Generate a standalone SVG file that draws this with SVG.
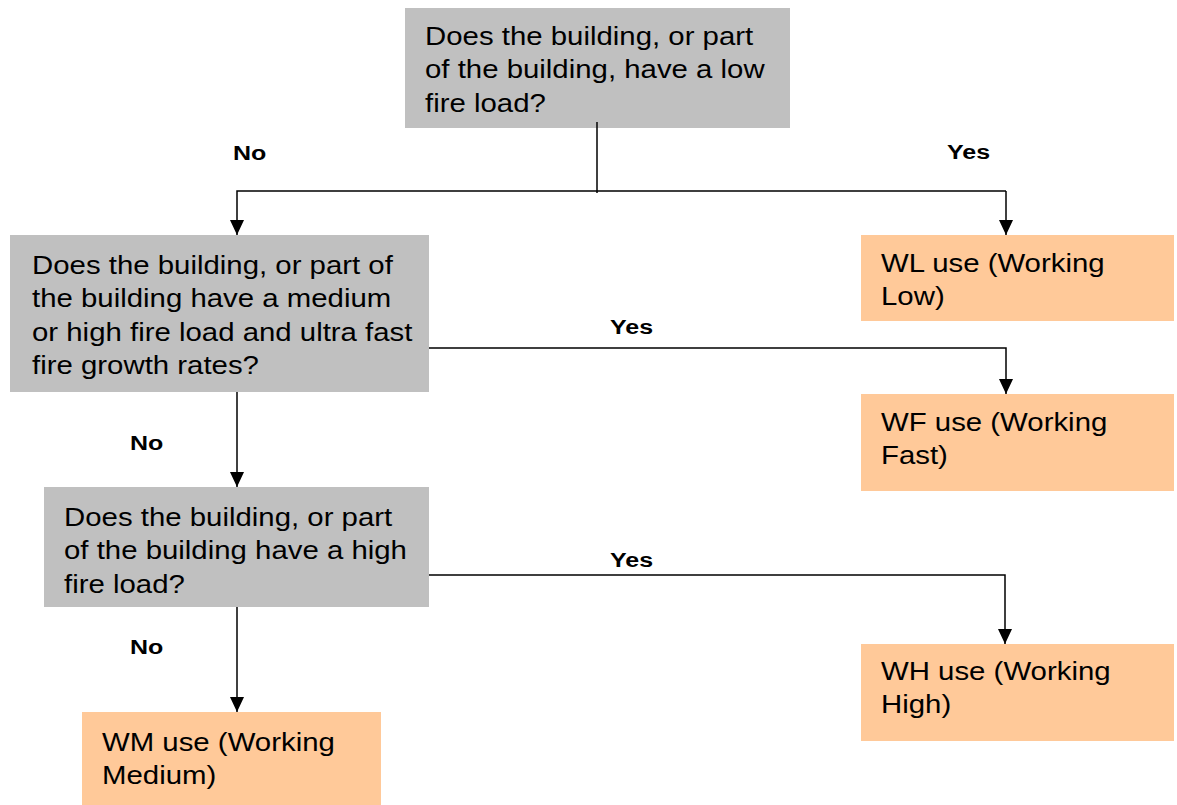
<svg xmlns="http://www.w3.org/2000/svg" width="1177" height="805" viewBox="0 0 1177 805">
  <style>
    .q { fill: #C0C0C0; }
    .r { fill: #FFC999; }
    .t { font-family: "Liberation Sans", Arial, sans-serif; font-size: 26px; fill: #000; }
    .lbl { font-family: "Liberation Sans", Arial, sans-serif; font-size: 20px; font-weight: bold; fill: #000; }
    .wire { fill: none; stroke: #000; stroke-width: 1.5; }
  </style>
  <defs>
    <marker id="arrow" viewBox="0 0 15 14" refX="15" refY="7" markerWidth="15" markerHeight="14" markerUnits="userSpaceOnUse" orient="auto">
      <path d="M0,0 L15,7 L0,14 Z" fill="#000"/>
    </marker>
  </defs>
  <rect width="1177" height="805" fill="#fff"/>

  <g id="q-low">
    <rect class="q" x="405" y="8" width="385" height="120"/>
    <text class="t" transform="translate(425,45) scale(1.13,1)">
      <tspan x="0" y="0">Does the building, or part</tspan>
      <tspan x="0" y="33.5">of the building, have a low</tspan>
      <tspan x="0" y="67">fire load?</tspan>
    </text>
  </g>

  <g id="q-fast">
    <rect class="q" x="10" y="235" width="419" height="157"/>
    <text class="t" transform="translate(32,274) scale(1.13,1)">
      <tspan x="0" y="0">Does the building, or part of</tspan>
      <tspan x="0" y="33.5">the building have a medium</tspan>
      <tspan x="0" y="67">or high fire load and ultra fast</tspan>
      <tspan x="0" y="100.5">fire growth rates?</tspan>
    </text>
  </g>

  <g id="q-high">
    <rect class="q" x="44" y="487" width="385" height="120"/>
    <text class="t" transform="translate(64,526) scale(1.13,1)">
      <tspan x="0" y="0">Does the building, or part</tspan>
      <tspan x="0" y="33.5">of the building have a high</tspan>
      <tspan x="0" y="67">fire load?</tspan>
    </text>
  </g>

  <g id="wl">
    <rect class="r" x="861" y="235" width="313" height="86"/>
    <text class="t" transform="translate(881,272) scale(1.13,1)">
      <tspan x="0" y="0">WL use (Working</tspan>
      <tspan x="0" y="33.5">Low)</tspan>
    </text>
  </g>

  <g id="wf">
    <rect class="r" x="861" y="394" width="313" height="97"/>
    <text class="t" transform="translate(881,431) scale(1.13,1)">
      <tspan x="0" y="0">WF use (Working</tspan>
      <tspan x="0" y="33.5">Fast)</tspan>
    </text>
  </g>

  <g id="wh">
    <rect class="r" x="861" y="644" width="313" height="97"/>
    <text class="t" transform="translate(881,680) scale(1.13,1)">
      <tspan x="0" y="0">WH use (Working</tspan>
      <tspan x="0" y="33.5">High)</tspan>
    </text>
  </g>

  <g id="wm">
    <rect class="r" x="82" y="712" width="299" height="93"/>
    <text class="t" transform="translate(102,751) scale(1.13,1)">
      <tspan x="0" y="0">WM use (Working</tspan>
      <tspan x="0" y="33.5">Medium)</tspan>
    </text>
  </g>

  <g id="connectors">
    <path class="wire" d="M597,122 V193"/>
    <path class="wire" d="M1006,191 H237 V235" marker-end="url(#arrow)"/>
    <path class="wire" d="M1006,191 V235" marker-end="url(#arrow)"/>
    <path class="wire" d="M429,348 H1006 V394" marker-end="url(#arrow)"/>
    <path class="wire" d="M237,392 V487" marker-end="url(#arrow)"/>
    <path class="wire" d="M429,575 H1005 V644" marker-end="url(#arrow)"/>
    <path class="wire" d="M237,607 V712" marker-end="url(#arrow)"/>
  </g>

  <g id="labels">
    <text class="lbl" transform="translate(233,160) scale(1.25,1)">No</text>
    <text class="lbl" transform="translate(947,159) scale(1.25,1)">Yes</text>
    <text class="lbl" transform="translate(610,334) scale(1.25,1)">Yes</text>
    <text class="lbl" transform="translate(130,450) scale(1.25,1)">No</text>
    <text class="lbl" transform="translate(610,567) scale(1.25,1)">Yes</text>
    <text class="lbl" transform="translate(130,654) scale(1.25,1)">No</text>
  </g>
</svg>
